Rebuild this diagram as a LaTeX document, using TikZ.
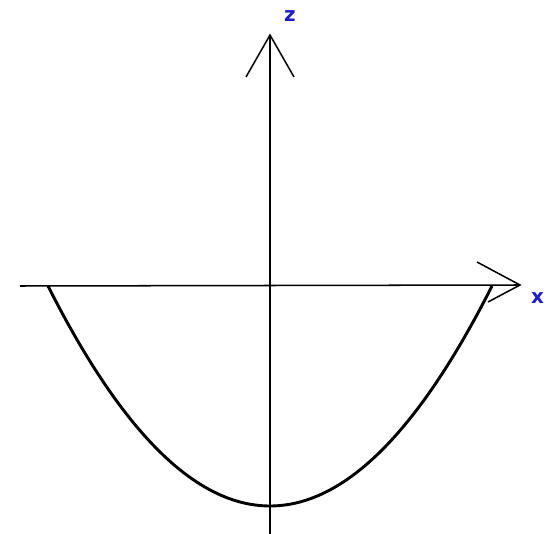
\documentclass[tikz,border=0pt]{standalone}
\usepackage{fontspec}
\setmainfont{DejaVu Sans}
\definecolor{lblue}{RGB}{30,30,200}
\begin{document}
\begin{tikzpicture}[x={(0.03cm,0)},y={(0,-0.03cm)},
  axis/.style={line width=1.3pt,black},
  curve/.style={line width=2.5pt,black},
  lbl/.style={text=lblue,font=\bfseries\fontsize{17}{17}\selectfont,inner sep=0pt}]
\useasboundingbox (0,0) rectangle (546,534);
\coordinate (zb) at (270,534);
\coordinate (zt) at (270,35);
\coordinate (zl) at (246,77);
\coordinate (zr) at (294,77);
\coordinate (xl) at (20,286);
\coordinate (xt) at (520,285);
\coordinate (xu) at (477,262);
\coordinate (xd) at (488,302);
\draw[axis] (zb) -- (zt);
\draw[axis] (zl) -- (zt) -- (zr);
\draw[axis] (xl) -- (xt);
\draw[axis] (xu) -- (xt) -- (xd);
\draw[curve,domain=-222:222,samples=80] plot ({270+\x},{286+220*(1-(\x/222)^2)});
\node[lbl] (zlab) at (290,16) {z};
\node[lbl,anchor=west] (xlab) at (531,298) {x};
\end{tikzpicture}
\end{document}
